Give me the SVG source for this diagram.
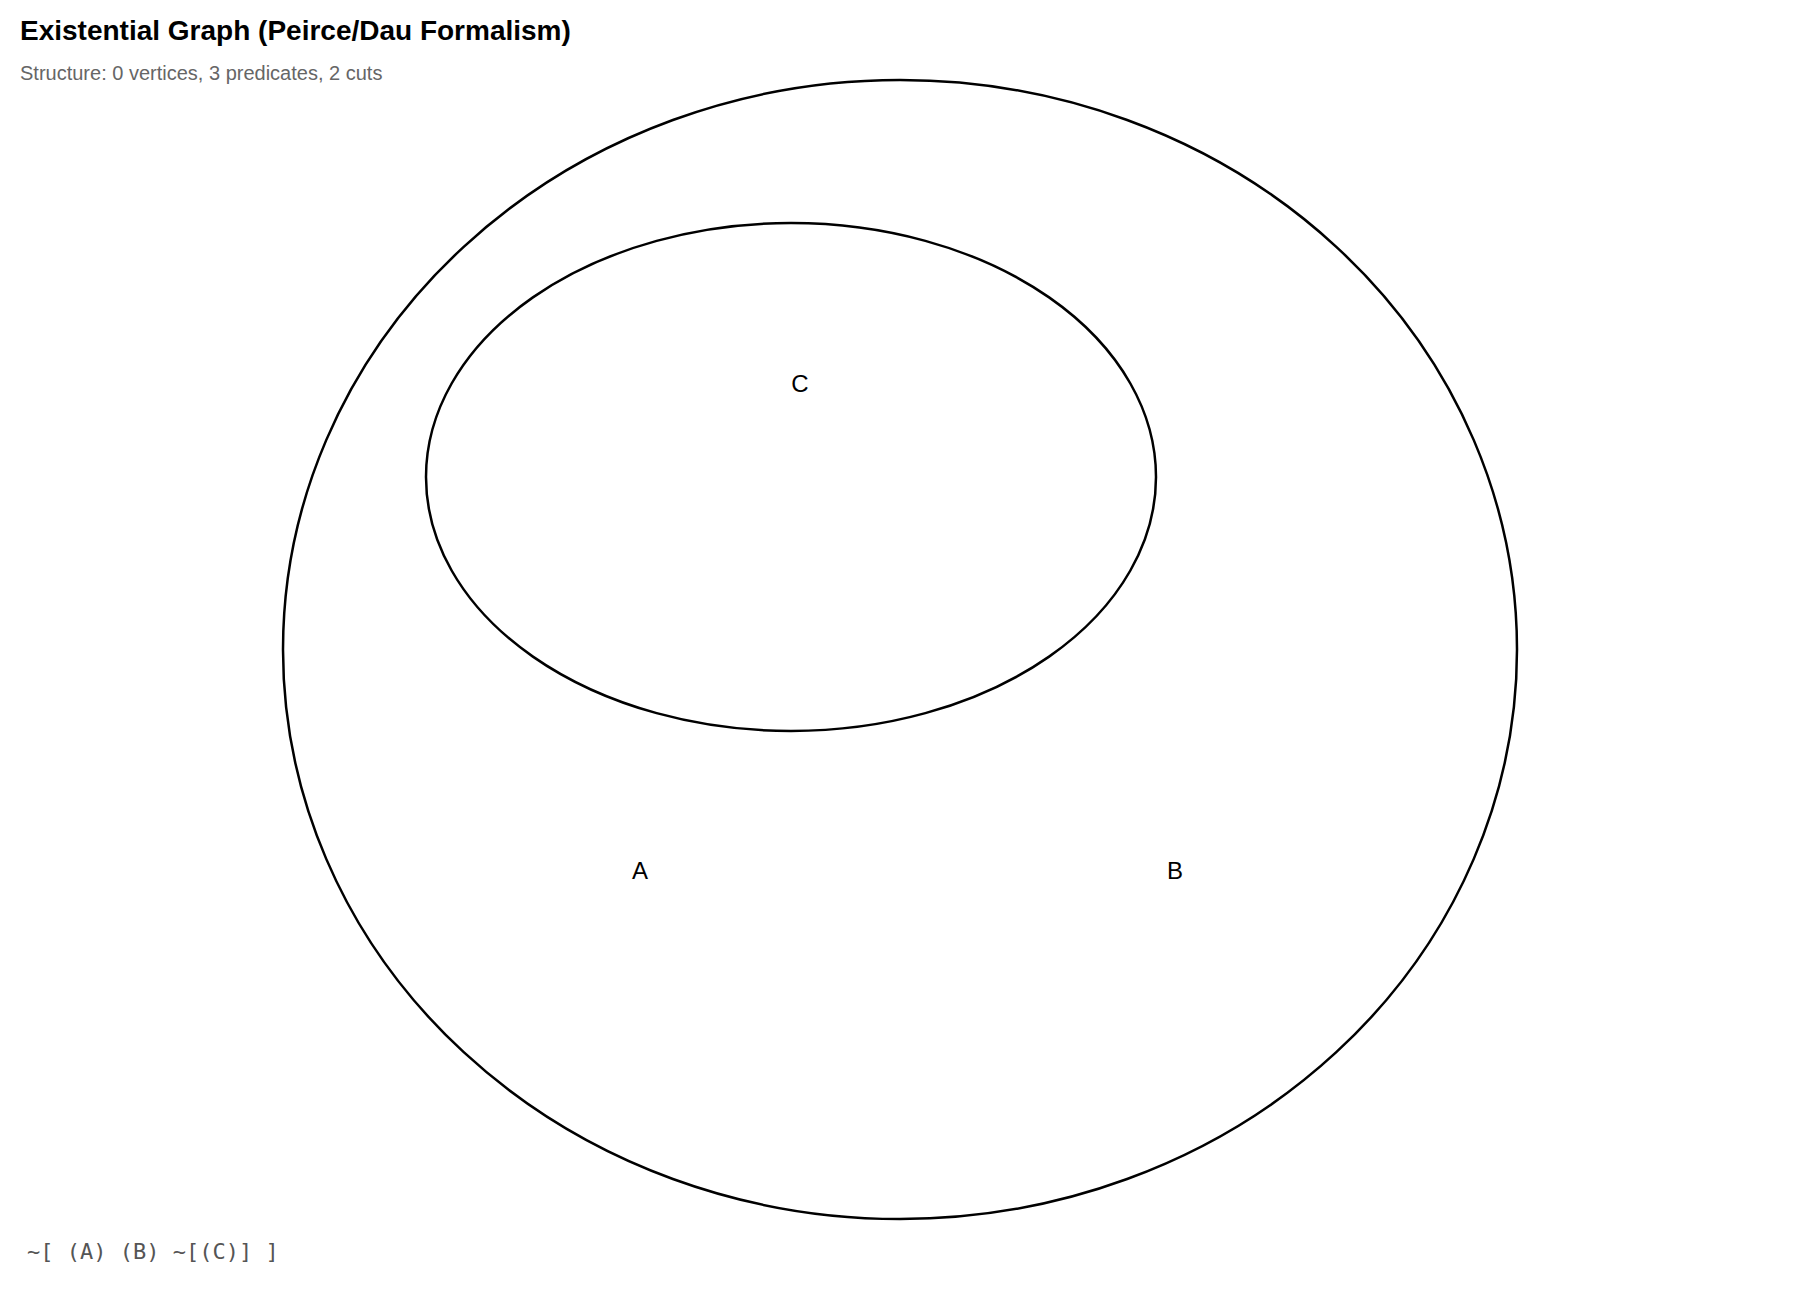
<svg xmlns="http://www.w3.org/2000/svg" width="1800" height="1300" viewBox="0 0 1800 1300">
  <style>
    .cut { fill: none; stroke: #000; stroke-width: 2.5; }
    .pred { font-family: "Liberation Sans", Arial, sans-serif; font-size: 24px; fill: #000; text-anchor: middle; }
    .title { font-family: "Liberation Sans", Arial, sans-serif; font-size: 28px; font-weight: bold; fill: #000; }
    .sub { font-family: "Liberation Sans", Arial, sans-serif; font-size: 20px; fill: #666; }
    .formula { font-family: "DejaVu Sans Mono", monospace; font-size: 22px; fill: #555; }
  </style>
  <rect width="1800" height="1300" fill="#fff"/>
  <text class="title" x="20" y="40">Existential Graph (Peirce/Dau Formalism)</text>
  <text class="sub" x="20" y="80">Structure: 0 vertices, 3 predicates, 2 cuts</text>
  <g id="cuts">
    <g id="cut-outer"><ellipse class="cut" cx="900" cy="649.5" rx="617" ry="569.5"/></g>
    <g id="cut-inner"><ellipse class="cut" cx="791" cy="477" rx="365" ry="254"/></g>
  </g>
  <g id="pred-C"><text class="pred" x="800" y="392">C</text></g>
  <g id="pred-A"><text class="pred" x="640" y="879">A</text></g>
  <g id="pred-B"><text class="pred" x="1175" y="879">B</text></g>
  <text class="formula" x="27" y="1259">~[ (A) (B) ~[(C)] ]</text>
</svg>
